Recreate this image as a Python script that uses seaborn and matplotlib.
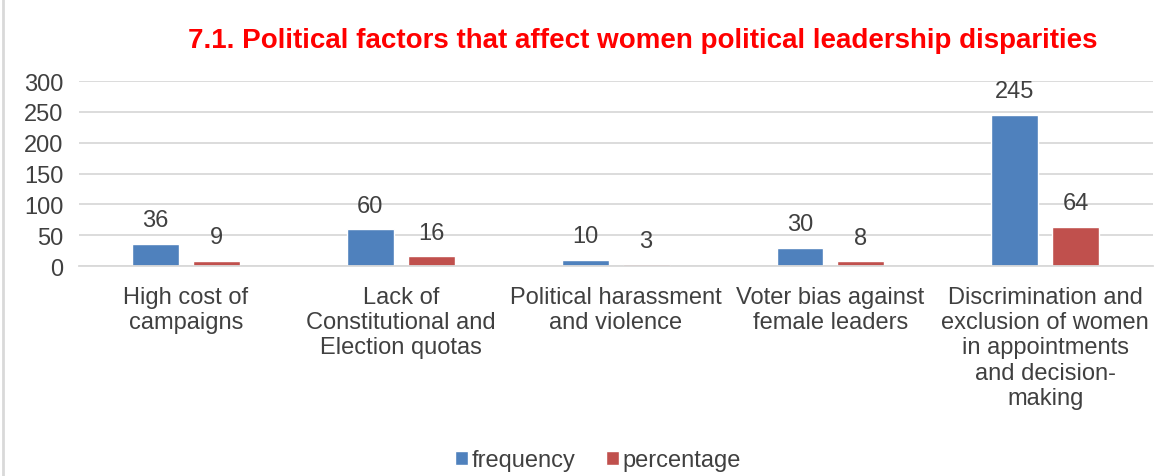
import pandas as pd
import seaborn as sns
import matplotlib.pyplot as plt
from matplotlib.lines import Line2D

categories = [
    "High cost of\ncampaigns",
    "Lack of\nConstitutional and\nElection quotas",
    "Political harassment\nand violence",
    "Voter bias against\nfemale leaders",
    "Discrimination and\nexclusion of women\nin appointments\nand decision-\nmaking",
]
frequency = [36, 60, 10, 30, 245]
percentage = [9, 16, 3, 8, 64]
series = ["frequency", "percentage"]
colors = ["#4F81BD", "#C0504D"]

df = pd.DataFrame({
    "factor": categories * 2,
    "value": frequency + percentage,
    "series": [series[0]] * len(categories) + [series[1]] * len(categories),
})

sns.set_style("white")
plt.rcParams["font.family"] = ["Liberation Sans", "DejaVu Sans"]

fig = plt.figure(figsize=(11.55, 4.77), dpi=100)
ax = fig.add_axes([0.068, 0.440, 0.930, 0.388])

sns.barplot(data=df, x="factor", y="value", hue="series", palette=colors,
            saturation=1, width=0.567, gap=0.23, ax=ax, legend=True)

txt = "#404040"
for cont in ax.containers:
    ax.bar_label(cont, fmt="%d", padding=9, fontsize=17, color=txt)

ax.set_ylim(0, 300)
ax.set_yticks(range(0, 301, 50))
ax.yaxis.grid(True, color="#D9D9D9", linewidth=1.3)
ax.set_axisbelow(True)
for s in ax.spines.values():
    s.set_visible(False)
ax.spines["bottom"].set_visible(True)
ax.spines["bottom"].set_color("#D9D9D9")
ax.spines["bottom"].set_linewidth(1.3)
ax.set_xlabel("")
ax.set_ylabel("")
ax.tick_params(axis="y", labelsize=17, labelcolor=txt, length=0, pad=11)
ax.tick_params(axis="x", labelsize=17, labelcolor=txt, length=0, pad=14)
for lab in ax.get_xticklabels():
    lab.set_linespacing(1.2)

ax.legend(loc="lower center", bbox_to_anchor=(598 / 1155, -0.02),
          bbox_transform=fig.transFigure, ncol=2, frameon=False, fontsize=17,
          labelcolor=txt, handlelength=0.55, handleheight=0.55,
          handletextpad=0.15, columnspacing=1.3, borderaxespad=0.2)

fig.text(643 / 1155, 0.915, "7.1. Political factors that affect women political leadership disparities",
         ha="center", va="center", fontsize=20, fontweight="bold", color="#FF0000")

fig.add_artist(Line2D([3 / 1155, 3 / 1155], [0, 1], transform=fig.transFigure,
                      color="#D9D9D9", linewidth=2))

fig.savefig("out.png", dpi=100)
